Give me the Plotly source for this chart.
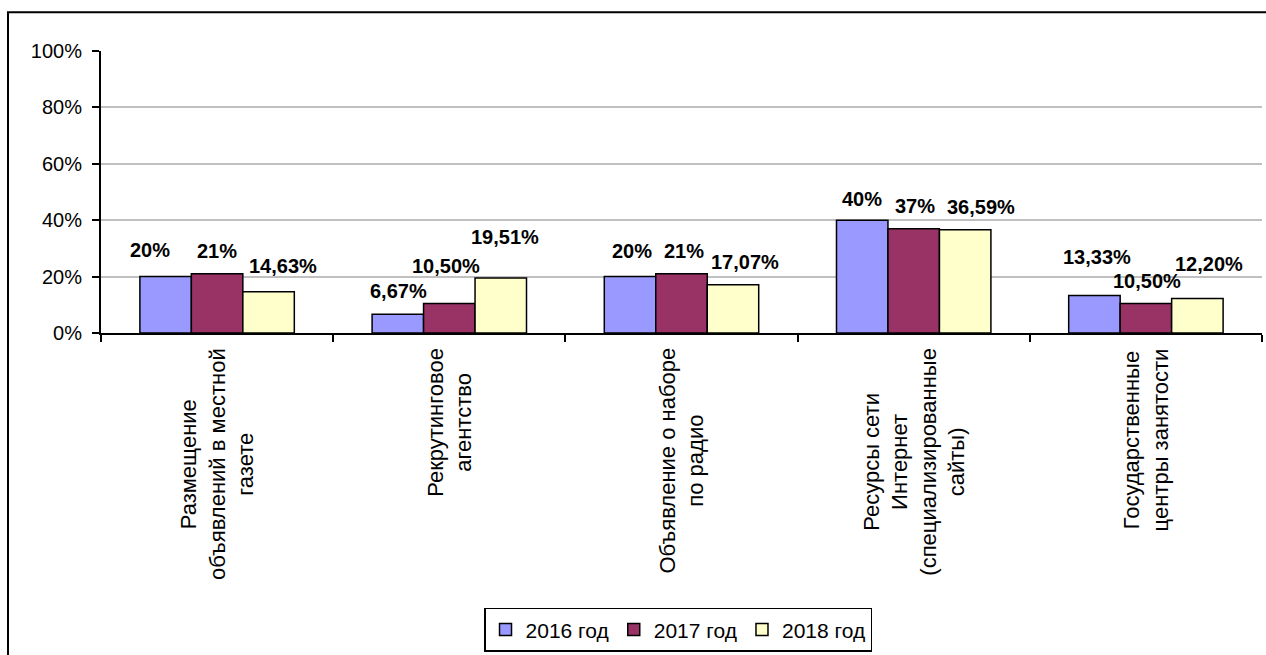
import plotly.graph_objects as go

categories = [
    "Размещение<br>объявлений в местной<br>газете",
    "Рекрутинговое<br>агентство",
    "Объявление о наборе<br>по радио",
    "Ресурсы сети<br>Интернет<br>(специализированные<br>сайты)",
    "Государственные<br>центры занятости",
]
series_names = ["2016 год", "2017 год", "2018 год"]
values_2016 = [20, 6.67, 20, 40, 13.33]
values_2017 = [21, 10.5, 21, 37, 10.5]
values_2018 = [14.63, 19.51, 17.07, 36.59, 12.20]
y_ticks = [0, 20, 40, 60, 80, 100]
y_tick_labels = ["0%", "20%", "40%", "60%", "80%", "100%"]

colors = ["#9999FF", "#993366", "#FFFFCC"]
# label placement tweaks (pixels) relative to bar top/centre
label_dy = [[27, 23, 26, 21, 38], [23, 37, 23, 23, 22], [26, 41, 23, 23, 35]]
label_dx = [[-16, 1, 2, 0, 3], [0, -3, 2, 1, 1], [14, 4, 12, 16, 12]]
bar_offsets = [-51.5, 0, 51.5]

FONT = "Liberation Sans, Arial, sans-serif"


def fmt(v):
    if abs(v - round(v)) < 1e-9:
        return f"{int(round(v))}%"
    return f"{v:.2f}".replace(".", ",") + "%"


all_values = [values_2016, values_2017, values_2018]
fig = go.Figure()
for name, vals, col in zip(series_names, all_values, colors):
    fig.add_trace(go.Bar(
        x=categories, y=vals, name=name,
        marker=dict(color=col, line=dict(color="black", width=1.5)),
    ))

annotations = []
for s, vals in enumerate(all_values):
    for i, v in enumerate(vals):
        annotations.append(dict(
            x=categories[i], y=v, xref="x", yref="y",
            text=f"<b>{fmt(v)}</b>", showarrow=False,
            xanchor="center", yanchor="middle",
            xshift=bar_offsets[s] + label_dx[s][i], yshift=label_dy[s][i],
            font=dict(family=FONT, size=20, color="black"),
        ))
for c in categories:
    annotations.append(dict(
        x=c, y=0, xref="x", yref="paper", text=c, showarrow=False,
        textangle=-90, xanchor="center", yanchor="top", align="center",
        yshift=-13, font=dict(family=FONT, size=22, color="black"),
    ))

fig.update_layout(
    width=1266, height=655,
    margin=dict(l=101, r=4, t=51, b=320),
    paper_bgcolor="white", plot_bgcolor="white",
    barmode="group", bargap=0.335, bargroupgap=0,
    font=dict(family=FONT, color="black"),
    annotations=annotations,
    legend=dict(
        orientation="h", x=0.497, xanchor="center", y=-0.975, yanchor="top",
        bordercolor="black", borderwidth=1.5,
        font=dict(family=FONT, size=21, color="black"),
        itemclick=False,
    ),
    shapes=[dict(
        type="rect", xref="paper", yref="paper",
        x0=(8 - 101) / 1161, x1=(1275 - 101) / 1161,
        y0=(335 - 665) / 284, y1=(335 - 12) / 284,
        line=dict(color="black", width=2), fillcolor="rgba(0,0,0,0)", layer="below",
    )],
    xaxis=dict(
        showticklabels=False, tickson="boundaries", ticks="outside",
        ticklen=7, tickwidth=1.5, tickcolor="black",
        showline=True, linecolor="black", linewidth=2, showgrid=False,
    ),
    yaxis=dict(
        range=[0, 100], tickmode="array", tickvals=y_ticks, ticktext=y_tick_labels,
        ticks="outside", ticklen=7, tickwidth=1.5, tickcolor="black",
        ticklabelstandoff=6,
        showline=True, linecolor="black", linewidth=2,
        showgrid=True, gridcolor="#C0C0C0", gridwidth=2, zeroline=False,
        tickfont=dict(family=FONT, size=20, color="black"),
    ),
)

fig.write_html("out.html")
